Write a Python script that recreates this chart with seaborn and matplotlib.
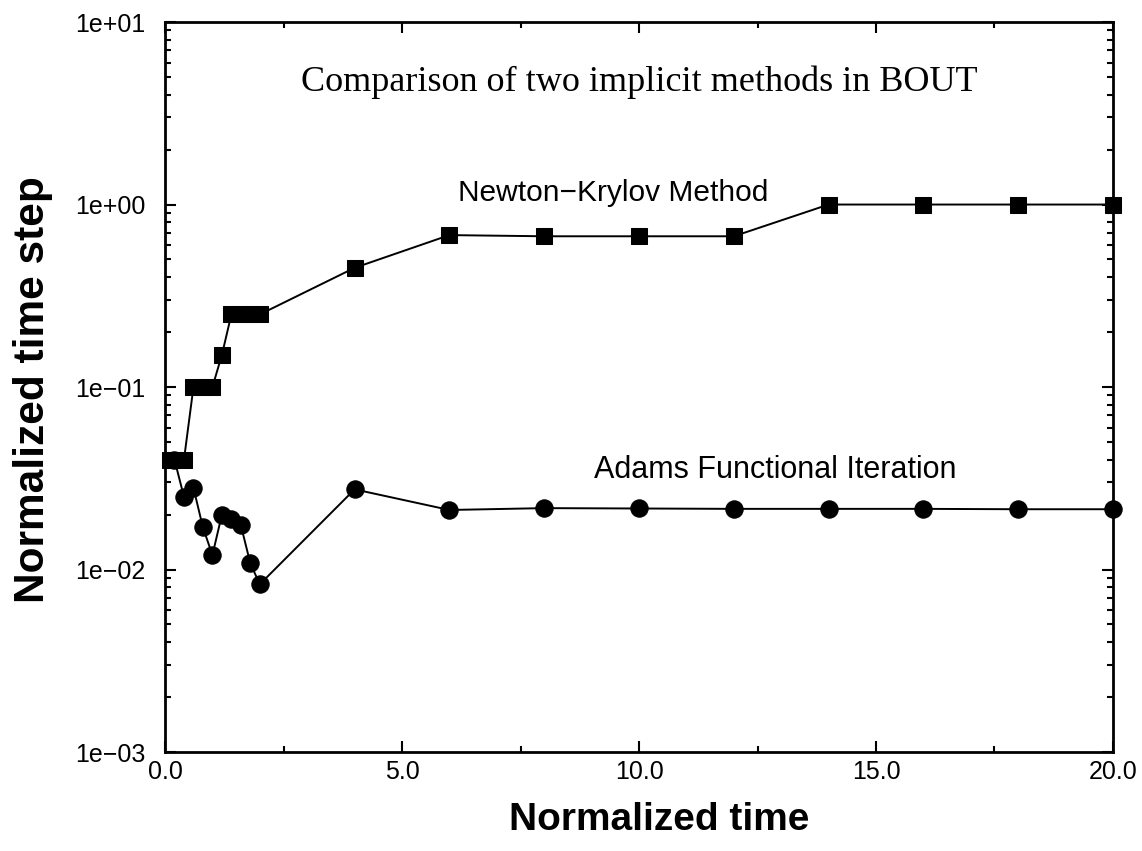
import numpy as np
import pandas as pd
import matplotlib
matplotlib.use("Agg")
import matplotlib.pyplot as plt
import matplotlib.ticker as mticker
import seaborn as sns

# ------------------------------------------------------------
# Data
# ------------------------------------------------------------
nk_time = [0.1, 0.2, 0.4, 0.6, 0.8, 1.0, 1.2, 1.4, 1.6, 1.8, 2.0,
           4.0, 6.0, 8.0, 10.0, 12.0, 14.0, 16.0, 18.0, 20.0]
nk_step = [0.04, 0.04, 0.04, 0.1, 0.1, 0.1, 0.15, 0.25, 0.25, 0.25, 0.25,
           0.45, 0.68, 0.67, 0.67, 0.67, 1.0, 1.0, 1.0, 1.0]

adams_time = [0.2, 0.4, 0.6, 0.8, 1.0, 1.2, 1.4, 1.6, 1.8, 2.0,
              4.0, 6.0, 8.0, 10.0, 12.0, 14.0, 16.0, 18.0, 20.0]
adams_step = [0.04, 0.025, 0.028, 0.017, 0.012, 0.020, 0.019, 0.0175, 0.0108, 0.0083,
              0.0275, 0.0212, 0.0217, 0.0216, 0.0215, 0.0215, 0.0215, 0.0214, 0.0214]

x_ticks = [0.0, 5.0, 10.0, 15.0, 20.0]
y_ticks = [1e-3, 1e-2, 1e-1, 1e0, 1e1]
y_labels = ["1e\u221203", "1e\u221202", "1e\u221201", "1e+00", "1e+01"]

nk_df = pd.DataFrame({"time": nk_time, "step": nk_step})
adams_df = pd.DataFrame({"time": adams_time, "step": adams_step})

sns.set_style("ticks")
plt.rcParams["font.family"] = ["Liberation Sans", "DejaVu Sans"]
plt.rcParams["text.color"] = "black"
plt.rcParams["axes.labelcolor"] = "black"
plt.rcParams["xtick.color"] = "black"
plt.rcParams["ytick.color"] = "black"

fig = plt.figure(figsize=(11.42, 8.51), dpi=100)
ax = fig.add_axes([0.1445, 0.1163, 0.8301, 0.8578])

sns.lineplot(data=nk_df, x="time", y="step", ax=ax, color="black",
             marker="s", markersize=11, linewidth=1.4, estimator=None,
             sort=False, markeredgecolor="black", clip_on=False, zorder=3)
sns.lineplot(data=adams_df, x="time", y="step", ax=ax, color="black",
             marker="o", markersize=12.5, linewidth=1.4, estimator=None,
             sort=False, markeredgecolor="black", clip_on=False, zorder=3)

ax.set_yscale("log")
ax.set_xlim(0, 20)
ax.set_ylim(1e-3, 1e1)

ax.set_xticks(x_ticks)
ax.set_xticklabels([f"{t:.1f}" for t in x_ticks])
ax.xaxis.set_minor_locator(mticker.MultipleLocator(2.5))
ax.set_yticks(y_ticks)
ax.set_yticklabels(y_labels)
ax.yaxis.set_minor_locator(mticker.LogLocator(base=10, subs=np.arange(2, 10), numticks=20))
ax.yaxis.set_minor_formatter(mticker.NullFormatter())

ax.tick_params(axis="both", which="both", direction="in",
               top=True, right=True, labelsize=18, width=1.5, color="black",
               labelcolor="black")
ax.tick_params(axis="both", which="major", length=8)
ax.tick_params(axis="both", which="minor", length=4)
ax.tick_params(axis="y", which="major", pad=14)
ax.tick_params(axis="x", which="major", pad=6)

for spine in ax.spines.values():
    spine.set_visible(True)
    spine.set_linewidth(2)
    spine.set_color("black")

ax.set_xlabel("Normalized time", fontsize=28, fontweight="bold")
ax.set_ylabel("Normalized time step", fontsize=30.5, fontweight="bold")
ax.xaxis.set_label_coords(0.521, -0.068)
ax.yaxis.set_label_coords(-0.118, 0.496)

ax.text(10.0, 4.69, "Comparison of two implicit methods in BOUT",
        family=["Liberation Serif", "DejaVu Serif"], fontsize=26,
        ha="center", va="center")
ax.text(9.45, 1.16, "Newton\u2212Krylov Method", fontsize=21.5,
        ha="center", va="center")
ax.text(12.87, 0.0349, "Adams Functional Iteration", fontsize=22,
        ha="center", va="center")

fig.savefig("out.png", dpi=100)
